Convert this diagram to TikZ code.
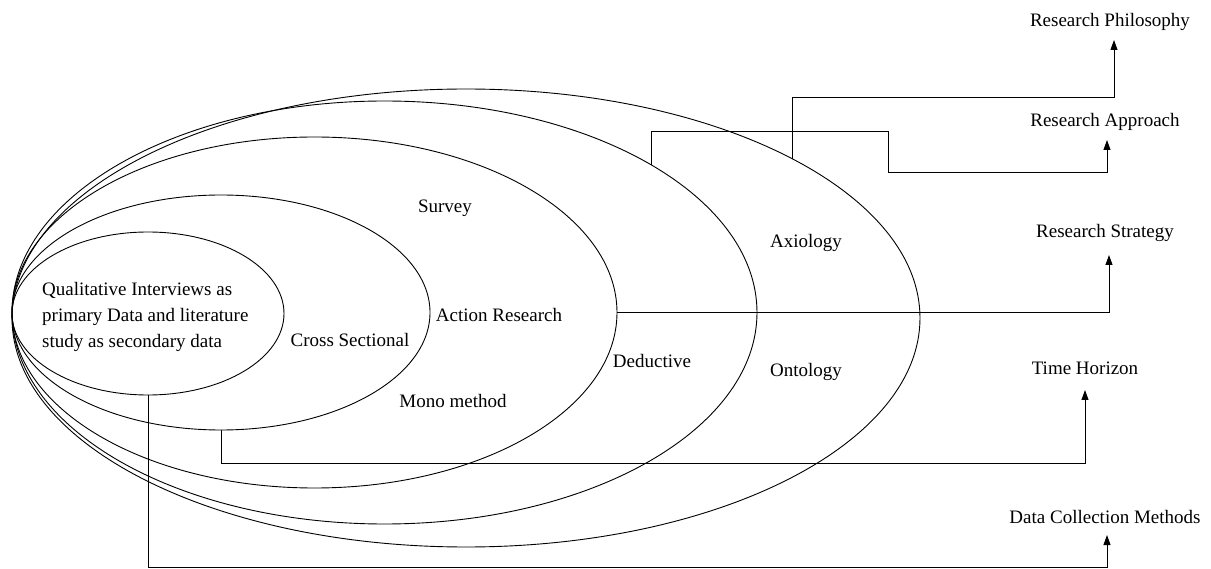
\documentclass[tikz,border=0pt]{standalone}
\usepackage{fontspec}
\setmainfont{Liberation Serif}
\usetikzlibrary{shapes.geometric,arrows.meta}
\begin{document}
\begin{tikzpicture}[x=1pt,y=-1pt,
  ring/.style={draw, ellipse, inner sep=0pt, outer sep=0pt, line width=0.9pt},
  lbl/.style={font=\fontsize{19}{26}\selectfont, inner sep=0pt, anchor=base},
  link/.style={draw, line width=0.9pt, -{Triangle[length=10pt,width=7pt]}},
]
\useasboundingbox (0,0) rectangle (1211,569);

% nested layers, all touching at the left
\node[ring, minimum width=908pt, minimum height=458pt] (e5) at (466,318) {};
\node[ring, minimum width=745pt, minimum height=423pt] (e4) at (384.5,312.5) {};
\node[ring, minimum width=605pt, minimum height=351pt] (e3) at (314.5,312.5) {};
\node[ring, minimum width=418pt, minimum height=235pt] (e2) at (221,312.5) {};
\node[ring, minimum width=272pt, minimum height=163pt] (e1) at (148,313.5) {};

% labels inside the layers
\node[font=\fontsize{19}{26}\selectfont, inner sep=0pt, align=left, anchor=west] (core) at (42,317)
  {Qualitative Interviews as\\primary Data and literature\\study as secondary data};
\node[lbl] (cross) at (350,347) {Cross Sectional};
\node[lbl] (survey) at (445,213) {Survey};
\node[lbl] (action) at (499,322) {Action Research};
\node[lbl] (mono) at (453,407) {Mono method};
\node[lbl] (deduct) at (652,368) {Deductive};
\node[lbl] (axio) at (806,248) {Axiology};
\node[lbl] (onto) at (806,377) {Ontology};

% layer names on the right
\node[lbl] (phil) at (1110,27) {Research Philosophy};
\node[lbl] (appr) at (1105,127) {Research Approach};
\node[lbl] (strat) at (1105,238) {Research Strategy};
\node[lbl] (time) at (1085,375) {Time Horizon};
\node[lbl] (data) at (1105,523) {Data Collection Methods};

% bends and arrow ends of the connectors
\coordinate (b1) at (1114,97);   \coordinate (t1) at (1114,40);
\coordinate (a1) at (888,131);   \coordinate (a2) at (1107,172); \coordinate (t2) at (1107,140);
\coordinate (s1) at (1109,312.5); \coordinate (t3) at (1109,255);
\coordinate (c4) at (1085,463);  \coordinate (t4) at (1085,390);
\coordinate (c5) at (1107,567);  \coordinate (t5) at (1107,535);

% connectors
\draw[link] (e5.26.5) |- (b1) -- (t1);
\draw[link] (e4.29.6) |- (a1) |- (a2) -- (t2);
\draw[link] (e3.east) -- (s1) -- (t3);
\draw[link] (e2.south) |- (c4) -- (t4);
\draw[link] (e1.south) |- (c5) -- (t5);
\end{tikzpicture}
\end{document}
